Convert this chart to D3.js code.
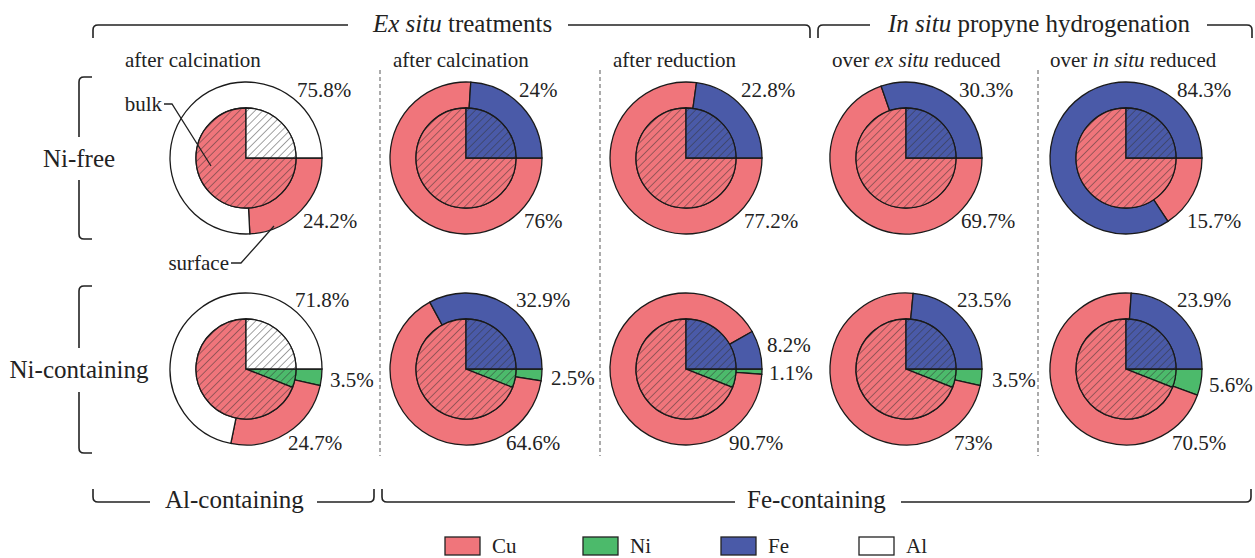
<!DOCTYPE html>
<html>
<head>
<meta charset="utf-8">
<script src="https://cdn.jsdelivr.net/npm/d3@7"></script>
<style>
    body { margin: 0; background: #fff; }
    svg text { fill: #222; }
</style>
</head>
<body>
<div id="chart"></div>
<script>
// ---------------- data ----------------
const columnTitles = [
    [['after calcination', false]],
    [['after calcination', false]],
    [['after reduction', false]],
    [['over ', false], ['ex situ', true], [' reduced', false]],
    [['over ', false], ['in situ', true], [' reduced', false]]
];
const rowLabels = ['Ni-free', 'Ni-containing'];
const elements = ['Cu', 'Ni', 'Fe', 'Al'];
const elementColors = ['#f0757b', '#4cba6b', '#4a5aa8', '#ffffff'];
const supportMetal = ['Al', 'Fe', 'Fe', 'Fe', 'Fe'];

// surface composition (outer ring, %), clockwise from 3 o'clock
const surfaceNiFree = [
    [['Cu', 24.2], ['Al', 75.8]],
    [['Cu', 76], ['Fe', 24]],
    [['Cu', 77.2], ['Fe', 22.8]],
    [['Cu', 69.7], ['Fe', 30.3]],
    [['Cu', 15.7], ['Fe', 84.3]]
];
const surfaceNiContaining = [
    [['Ni', 3.5], ['Cu', 24.7], ['Al', 71.8]],
    [['Ni', 2.5], ['Cu', 64.6], ['Fe', 32.9]],
    [['Ni', 1.1], ['Cu', 90.7], ['Fe', 8.2]],
    [['Ni', 3.5], ['Cu', 73], ['Fe', 23.5]],
    [['Ni', 5.6], ['Cu', 70.5], ['Fe', 23.9]]
];

// bulk composition (inner pie, %), 'M' = support metal of the column
const bulkNiFree = [['Cu', 75], ['M', 25]];
const bulkNiContaining = [['Ni', 6], ['Cu', 69], ['M', 25]];

const legendItems = ['Cu', 'Ni', 'Fe', 'Al'];

// ---------------- layout ----------------
// label offsets from the pie centre [dx, baseline dy], keyed by element
const labelOffsetsNiFree = [
    { Cu: [57, 70], Al: [51, -61] },
    { Cu: [58, 70], Fe: [53, -61] },
    { Cu: [58, 70], Fe: [55, -61] },
    { Cu: [55, 70], Fe: [53, -61] },
    { Cu: [61, 70], Fe: [51, -61] }
];
const labelOffsetsNiContaining = [
    { Cu: [42, 81], Ni: [84, 18], Al: [49, -62] },
    { Cu: [40, 81], Ni: [85, 16], Fe: [50, -62] },
    { Cu: [43, 81], Ni: [83, 11], Fe: [81, -17] },
    { Cu: [48, 81], Ni: [86, 18], Fe: [51, -62] },
    { Cu: [46, 81], Ni: [83, 23], Fe: [51, -62] }
];

const width = 1255, height = 558;
const outerR = 76, innerR = 50;
const serif = "'Liberation Serif', 'Times New Roman', Times, 'DejaVu Serif', serif";

const svg = d3.select('#chart').append('svg')
    .attr('width', width)
    .attr('height', height)
    .style('font-family', serif);

const color = d3.scaleOrdinal().domain(elements).range(elementColors);
const x = d3.scaleLinear().domain([0, columnTitles.length - 1]).range([246, 1126]);
const y = d3.scalePoint().domain(rowLabels).range([158, 369]);

// hatch pattern for bulk
const defs = svg.append('defs');
defs.append('pattern')
    .attr('id', 'hatch')
    .attr('patternUnits', 'userSpaceOnUse')
    .attr('width', 5.5)
    .attr('height', 5.5)
    .attr('patternTransform', 'rotate(45)')
    .append('line')
    .attr('x1', 0).attr('y1', 0)
    .attr('x2', 0).attr('y2', 5.5)
    .attr('stroke', '#333')
    .attr('stroke-width', 0.9);

const pie = d3.pie()
    .sort(null)
    .value(d => d[1])
    .startAngle(Math.PI / 2)
    .endAngle(Math.PI / 2 + 2 * Math.PI);

const outerArc = d3.arc().innerRadius(innerR).outerRadius(outerR);
const innerArc = d3.arc().innerRadius(0).outerRadius(innerR);

// dashed separators
[380, 600, 1038].forEach(sx => {
    svg.append('line')
        .attr('x1', sx).attr('x2', sx)
        .attr('y1', 70).attr('y2', 456)
        .attr('stroke', '#888')
        .attr('stroke-width', 1.4)
        .attr('stroke-dasharray', '4,3');
});

function drawDonut(cx, cy, surface, bulk, metal, offsets) {
    const g = svg.append('g').attr('transform', `translate(${cx},${cy})`);

    // surface ring
    g.selectAll('.surface')
        .data(pie(surface))
        .enter().append('path')
        .attr('class', 'surface')
        .attr('d', outerArc)
        .attr('fill', d => color(d.data[0]))
        .attr('stroke', '#1a1a1a')
        .attr('stroke-width', 1.3);

    // bulk pie
    const bulkData = bulk.map(b => [b[0] === 'M' ? metal : b[0], b[1]]);
    const slices = g.selectAll('.bulk')
        .data(pie(bulkData))
        .enter().append('g')
        .attr('class', 'bulk');
    slices.append('path')
        .attr('d', innerArc)
        .attr('fill', d => color(d.data[0]));
    slices.append('path')
        .attr('d', innerArc)
        .attr('fill', 'url(#hatch)')
        .attr('stroke', '#1a1a1a')
        .attr('stroke-width', 1.3);

    // percentage labels
    surface.forEach(s => {
        const off = offsets[s[0]];
        g.append('text')
            .attr('x', off[0])
            .attr('y', off[1])
            .attr('font-size', '21px')
            .text(s[1] + '%');
    });
}

columnTitles.forEach((t, i) => {
    drawDonut(x(i), y('Ni-free'), surfaceNiFree[i], bulkNiFree, supportMetal[i], labelOffsetsNiFree[i]);
    drawDonut(x(i), y('Ni-containing'), surfaceNiContaining[i], bulkNiContaining, supportMetal[i], labelOffsetsNiContaining[i]);
});

// column titles
const titleX = [125, 393, 613, 832, 1050];
columnTitles.forEach((parts, i) => {
    const t = svg.append('text')
        .attr('x', titleX[i])
        .attr('y', 67)
        .attr('font-size', '21px');
    parts.forEach(p => {
        t.append('tspan')
            .attr('font-style', p[1] ? 'italic' : 'normal')
            .text(p[0]);
    });
});

// row labels and brackets
rowLabels.forEach(r => {
    svg.append('text')
        .attr('x', 79)
        .attr('y', y(r) + 9)
        .attr('text-anchor', 'middle')
        .attr('font-size', '25px')
        .text(r);
});

const bracketPaths = [
    // row brackets
    'M92,77 H84 Q79,77 79,82 V137',
    'M79,180 V234 Q79,239 84,239 H92',
    'M92,286 H84 Q79,286 79,291 V348',
    'M79,392 V448 Q79,453 84,453 H92',
    // top brackets
    'M93,38 V30 Q93,25 98,25 H348',
    'M568,25 H805 Q810,25 810,30 V38',
    'M818,38 V30 Q818,25 823,25 H870',
    'M1207,25 H1247 Q1252,25 1252,30 V38',
    // bottom brackets
    'M93,489 V497 Q93,502 98,502 H150',
    'M317,502 H369 Q374,502 374,497 V489',
    'M382,489 V497 Q382,502 387,502 H735',
    'M901,502 H1246 Q1251,502 1251,497 V489'
];
bracketPaths.forEach(p => {
    svg.append('path')
        .attr('d', p)
        .attr('fill', 'none')
        .attr('stroke', '#222')
        .attr('stroke-width', 1.6);
});

// group headers
function header(xPos, yPos, parts) {
    const t = svg.append('text')
        .attr('x', xPos)
        .attr('y', yPos)
        .attr('font-size', '25px');
    parts.forEach(p => {
        t.append('tspan')
            .attr('font-style', p[1] ? 'italic' : 'normal')
            .text(p[0]);
    });
}
header(373, 32, [['Ex situ', true], [' treatments', false]]);
header(888, 32, [['In situ', true], [' propyne hydrogenation', false]]);
header(165, 508, [['Al-containing', false]]);
header(747, 508, [['Fe-containing', false]]);

// bulk / surface annotation
svg.append('text').attr('x', 162).attr('y', 111).attr('text-anchor', 'end')
    .attr('font-size', '21px').text('bulk');
svg.append('path').attr('d', 'M164,104 H172 L211,166')
    .attr('fill', 'none').attr('stroke', '#222').attr('stroke-width', 1.3);
svg.append('text').attr('x', 229).attr('y', 270).attr('text-anchor', 'end')
    .attr('font-size', '21px').text('surface');
svg.append('path').attr('d', 'M231,263 H241 L274,226')
    .attr('fill', 'none').attr('stroke', '#222').attr('stroke-width', 1.3);

// legend
const legendX = d3.scalePoint().domain(legendItems).range([445, 859]);
const legend = svg.selectAll('.legend')
    .data(legendItems)
    .enter().append('g')
    .attr('class', 'legend')
    .attr('transform', d => `translate(${legendX(d)},537)`);
legend.append('rect')
    .attr('width', 35)
    .attr('height', 18)
    .attr('fill', d => color(d))
    .attr('stroke', '#222')
    .attr('stroke-width', 1.3);
legend.append('text')
    .attr('x', 47)
    .attr('y', 16)
    .attr('font-size', '21px')
    .text(d => d);
</script>
</body>
</html>
